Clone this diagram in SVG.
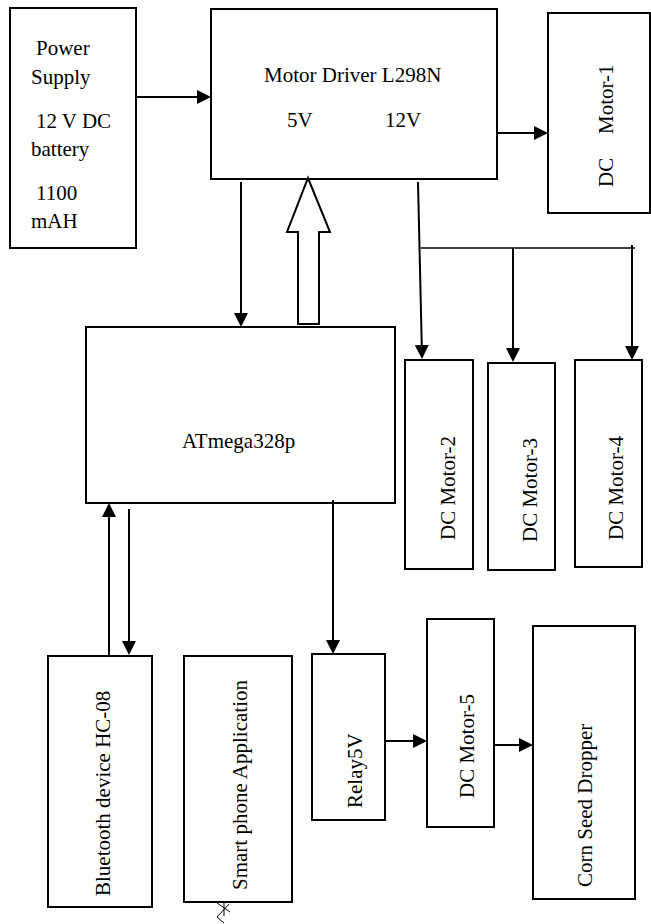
<svg xmlns="http://www.w3.org/2000/svg" width="651" height="924" viewBox="0 0 651 924">
<style>
.box{fill:#fff;stroke:#000;stroke-width:2}
.t{font-family:"Liberation Serif","Times New Roman",serif;font-size:21px;fill:#000}
.c{stroke:#000;stroke-width:2;fill:none}
.thin{stroke:#000;stroke-width:1.5;fill:none}
</style>
<defs>
<marker id="ah" viewBox="0 0 14 14" refX="11" refY="7" markerWidth="14" markerHeight="14" markerUnits="userSpaceOnUse" orient="auto">
<path d="M0,0 L14,7 L0,14 z" fill="#000"/>
</marker>
</defs>
<rect width="651" height="924" fill="#fff"/>

<g id="power">
<rect class="box" x="10" y="8" width="126" height="240"/>
<text class="t" x="36" y="55">Power</text>
<text class="t" x="31" y="84">Supply</text>
<text class="t" x="36" y="128">12 V DC</text>
<text class="t" x="31" y="156">battery</text>
<text class="t" x="36" y="200">1100</text>
<text class="t" x="31" y="228">mAH</text>
</g>

<g id="driver">
<rect class="box" x="211" y="9" width="286" height="170"/>
<text class="t" x="264" y="82">Motor Driver L298N</text>
<text class="t" x="287" y="127">5V</text>
<text class="t" x="385" y="127">12V</text>
</g>

<g id="motor1">
<rect class="box" x="548" y="13" width="102" height="200"/>
<text class="t" transform="translate(613,187) rotate(-90)">DC<tspan x="53">Motor-1</tspan></text>
</g>

<g id="atmega">
<rect class="box" x="86" y="327" width="309" height="176"/>
<text class="t" x="182" y="448">ATmega328p</text>
</g>

<g id="motor2">
<rect class="box" x="405" y="360" width="68" height="209"/>
<text class="t" transform="translate(455,540) rotate(-90)">DC Motor-2</text>
</g>

<g id="motor3">
<rect class="box" x="488" y="363" width="67" height="207"/>
<text class="t" transform="translate(537,542) rotate(-90)">DC Motor-3</text>
</g>

<g id="motor4">
<rect class="box" x="575" y="360" width="67" height="207"/>
<text class="t" transform="translate(623,540) rotate(-90)">DC Motor-4</text>
</g>

<g id="bluetooth">
<rect class="box" x="48" y="656" width="104" height="251"/>
<text class="t" transform="translate(110,896) rotate(-90)">Bluetooth device HC-08</text>
</g>

<g id="smartphone">
<rect class="box" x="184" y="656" width="108" height="246"/>
<text class="t" transform="translate(247,890) rotate(-90)">Smart phone Application</text>
<path d="M224,902 V916 M217,903 L230,912 M229,904 L217,917 L224,923" stroke="#000" stroke-width="1" fill="none"/>
</g>

<g id="relay">
<rect class="box" x="312" y="654" width="73" height="166"/>
<text class="t" transform="translate(362,808) rotate(-90)">Relay5V</text>
</g>

<g id="motor5">
<rect class="box" x="427" y="619" width="67" height="208"/>
<text class="t" transform="translate(474,798) rotate(-90)">DC Motor-5</text>
</g>

<g id="dropper">
<rect class="box" x="533" y="626" width="102" height="273"/>
<text class="t" transform="translate(592,887) rotate(-90)">Corn Seed Dropper</text>
</g>

<g id="connectors">
<line class="c" x1="136" y1="97" x2="208" y2="97" marker-end="url(#ah)"/>
<line class="c" x1="497" y1="133" x2="545" y2="133" marker-end="url(#ah)"/>
<line class="c" x1="241" y1="182" x2="241" y2="324" marker-end="url(#ah)"/>
<polygon class="c" style="fill:#fff" points="298,324 298,232 287,232 308,178 330,232 319,232 319,324"/>
<line class="c" x1="418" y1="182" x2="422" y2="356" marker-end="url(#ah)"/>
<line class="thin" x1="421" y1="248" x2="635" y2="248"/>
<line class="c" x1="513" y1="248" x2="513" y2="359" marker-end="url(#ah)"/>
<line class="c" x1="632" y1="245" x2="632" y2="357" marker-end="url(#ah)"/>
<line class="c" x1="109" y1="655" x2="109" y2="506" marker-end="url(#ah)"/>
<line class="c" x1="129" y1="509" x2="129" y2="652" marker-end="url(#ah)"/>
<line class="c" x1="333" y1="500" x2="333" y2="651" marker-end="url(#ah)"/>
<line class="c" x1="385" y1="741" x2="424" y2="741" marker-end="url(#ah)"/>
<line class="c" x1="494" y1="745" x2="530" y2="745" marker-end="url(#ah)"/>
</g>
</svg>
